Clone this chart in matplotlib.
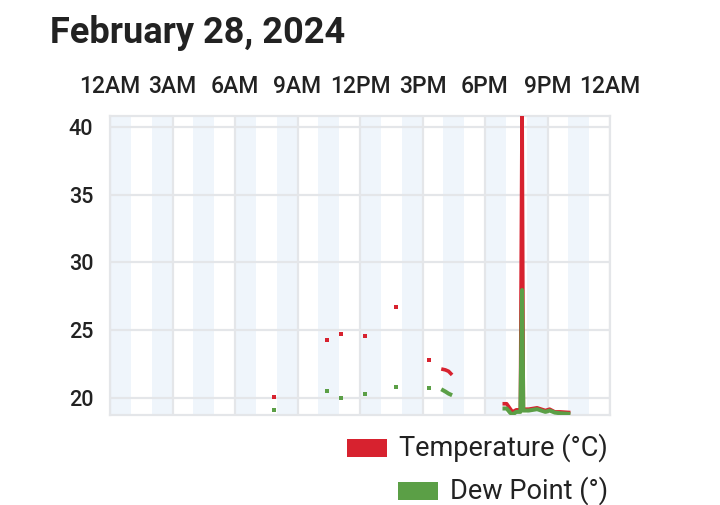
import numpy as np
import matplotlib
matplotlib.use("Agg")
import matplotlib.pyplot as plt
from matplotlib.patches import Rectangle

plt.rcParams['font.family'] = ['Roboto', 'DejaVu Sans']

title = "February 28, 2024"
tick_hours = [0, 3, 6, 9, 12, 15, 18, 21, 24]
tick_labels = ["12AM", "3AM", "6AM", "9AM", "12PM", "3PM", "6PM", "9PM", "12AM"]
y_ticks = [20, 25, 30, 35, 40]

hours = [7.89, 10.42, 11.07, 12.24, 13.73, 15.31, 15.90, 16.10, 16.25, 16.42,
         18.84, 19.04, 19.20, 19.32, 19.50, 19.70, 19.78, 19.84, 20.10, 20.50,
         20.90, 21.10, 21.35, 21.60, 22.10]
temperature = [20.07, 24.28, 24.70, 24.58, 26.69, 22.78, 22.12, 22.05, 21.95, 21.68,
               19.55, 19.55, 19.20, 18.95, 19.10, 19.10, 42.0, 19.15, 19.15, 19.25,
               19.05, 19.15, 18.95, 18.95, 18.90]
dew_point = [19.09, 20.49, 20.00, 20.27, 20.77, 20.69, 20.62, 20.45, 20.30, 20.18,
             19.20, 19.20, 18.90, 18.75, 18.95, 18.95, 27.95, 19.05, 19.05, 19.15,
             18.95, 19.05, 18.90, 18.85, 18.80]

RED = '#d7222f'
GREEN = '#5b9f46'
GRID = '#e4e6e9'
BAND = '#eff5fb'

fig = plt.figure(figsize=(7.2, 5.05), dpi=100)
W, H = 720, 505
ax = fig.add_axes([110 / W, (H - 415) / H, 500 / W, 299 / H])

ax.set_xlim(0, 24)
ax.set_ylim(18.72, 40.8)

# alternate-hour bands
for h in range(0, 24, 2):
    ax.axvspan(h, h + 1, color=BAND, lw=0, zorder=0)

for h in tick_hours:
    ax.axvline(h, color=GRID, lw=1.6, zorder=1)
for y in y_ticks:
    ax.axhline(y, color=GRID, lw=1.6, zorder=1)

for s in ax.spines.values():
    s.set_color(GRID)
    s.set_linewidth(1.6)


def segments(x, y):
    x = np.asarray(x, float)
    y = np.asarray(y, float)
    brk = np.where(np.diff(x) > 0.5)[0] + 1
    return list(zip(np.split(x, brk), np.split(y, brk)))


for vals, col, lw in ((temperature, RED, 2.6), (dew_point, GREEN, 2.9)):
    for sx, sy in segments(hours, vals):
        if len(sx) == 1:
            ax.plot(sx, sy, 's', color=col, ms=2.9, mew=0, zorder=3)
        else:
            ax.plot(sx, sy, '-', color=col, lw=lw, solid_joinstyle='round',
                    solid_capstyle='butt', zorder=3)

ax.xaxis.tick_top()
ax.set_xticks(tick_hours)
ax.set_xticklabels(tick_labels, fontweight='medium')
ax.set_yticks(y_ticks)
ax.set_yticklabels([str(v) for v in y_ticks], fontweight='medium')
ax.tick_params(axis='both', length=0, colors='#222222')
ax.tick_params(axis='x', labelsize=16.5, pad=13)
ax.tick_params(axis='y', labelsize=15.5, pad=12)

fig.text(50 / W, 1 - 43 / H, title, fontsize=26, fontweight='bold',
         color='#222222', va='baseline', ha='left')

# legend
renderer = fig.canvas.get_renderer()
entries = [("Temperature (°C)", RED, 448), ("Dew Point (°)", GREEN, 491)]
for label, col, yc in entries:
    t = fig.text(608 / W, 1 - yc / H, label, fontsize=19.5, color='#222222',
                 ha='right', va='center')
    bb = t.get_window_extent(renderer)
    x0 = bb.x0 - 12 - 40
    fig.add_artist(Rectangle((x0 / W, 1 - (yc + 9) / H), 40 / W, 18 / H,
                             transform=fig.transFigure, color=col, lw=0))

fig.savefig('out.png', dpi=100)
